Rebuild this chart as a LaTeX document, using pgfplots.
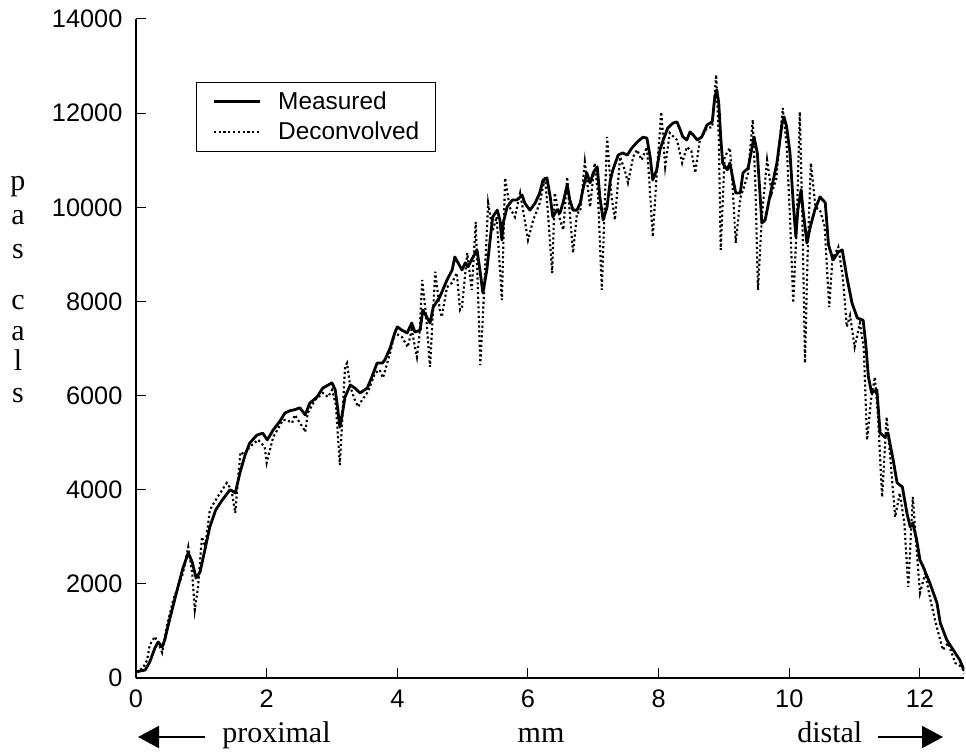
\documentclass[border=0pt]{standalone}
\usepackage{fontspec}
\setmainfont{Liberation Serif}
\newfontfamily\arial{Liberation Sans}
\usepackage{pgfplots}
\pgfplotsset{compat=1.18}
\usetikzlibrary{arrows.meta}

\begin{document}
\begin{tikzpicture}
\path[use as bounding box] (-102pt,-54.75pt) rectangle (622.5pt,508.5pt);
\begin{axis}[
  at={(0pt,0pt)}, anchor=south west,
  scale only axis, width=621.3pt, height=494.25pt,
  xmin=0, xmax=12.68, ymin=0, ymax=14000,
  axis x line=bottom, axis y line=left,
  axis line style={-, line width=1.1pt},
  tick align=inside, major tick length=7.5pt,
  every tick/.style={black, line width=0.75pt},
  xtick={0,2,...,12}, ytick={0,2000,...,14000},
  scaled ticks=false,
  tick label style={font=\arial\fontsize{19}{21}\selectfont},
  /pgf/number format/assume math mode=true,
  /pgf/number format/1000 sep={},
  xticklabel style={inner sep=0pt, anchor=north, yshift=-9pt},
  yticklabel style={inner sep=0pt, anchor=east, xshift=-10pt},
  legend style={at={(0.0724,0.9044)}, anchor=north west, draw=black,
    line width=0.6pt, fill=white, font=\arial\fontsize{18.3}{21}\selectfont,
    inner xsep=12pt, inner ysep=7pt, row sep=8pt,
    nodes={inner sep=0pt, anchor=west},
    /tikz/every odd column/.append style={column sep=12.75pt}},
  legend cell align=left,
  legend image code/.code={\draw[#1] (0pt,0pt) -- (34.5pt,0pt);},
]
% measured pressure profile
\addplot[black, line width=2.1pt, line join=round, mark=none] coordinates {
(0.00,130) (0.14,170) (0.21,340) (0.29,640) (0.34,765) (0.40,660) (0.44,810)
(0.52,1275) (0.63,1870) (0.72,2340) (0.80,2660) (0.86,2465) (0.92,2125)
(0.98,2250) (1.06,2760) (1.13,3210) (1.22,3570) (1.32,3780) (1.44,4000)
(1.52,3930) (1.59,4355) (1.67,4740) (1.74,4990) (1.85,5160) (1.94,5200)
(2.01,5060) (2.10,5270) (2.20,5450) (2.28,5630) (2.36,5680) (2.43,5700)
(2.51,5740) (2.59,5590) (2.66,5840) (2.77,5970) (2.86,6160) (3.00,6270)
(3.05,6120) (3.09,5695) (3.12,5330) (3.15,5545) (3.20,5970) (3.28,6225)
(3.35,6160) (3.43,6055) (3.54,6160) (3.61,6395) (3.69,6690) (3.77,6690)
(3.81,6760) (3.89,7010) (3.96,7330) (4.00,7460) (4.07,7390) (4.15,7330)
(4.22,7540) (4.27,7350) (4.35,7390) (4.39,7820) (4.45,7670) (4.50,7540)
(4.55,7880) (4.65,8095) (4.76,8455) (4.84,8670) (4.88,8945) (4.93,8820)
(4.99,8670) (5.04,8820) (5.08,8735) (5.16,8945) (5.22,9095) (5.27,8605)
(5.31,8180) (5.37,8670) (5.42,9305) (5.46,9795) (5.53,9940) (5.57,9730)
(5.60,9305) (5.62,9665) (5.68,10005) (5.76,10155) (5.83,10155) (5.91,10260)
(5.95,10090) (6.03,9940) (6.11,10090) (6.18,10305) (6.23,10580) (6.29,10625)
(6.34,10220) (6.38,9795) (6.44,9940) (6.49,9880) (6.54,10115) (6.60,10475)
(6.64,10155) (6.69,9940) (6.75,9940) (6.80,10090) (6.84,10370) (6.90,10730)
(6.95,10520) (7.00,10730) (7.06,10860) (7.10,10220) (7.15,9730) (7.21,10005)
(7.26,10580) (7.30,10795) (7.38,11110) (7.45,11155) (7.52,11110) (7.59,11260)
(7.67,11385) (7.76,11490) (7.82,11470) (7.87,11070) (7.91,10580) (7.97,10795)
(8.02,11220) (8.07,11430) (8.14,11685) (8.22,11790) (8.28,11815) (8.33,11645)
(8.37,11495) (8.43,11430) (8.48,11600) (8.53,11535) (8.59,11430) (8.66,11495)
(8.74,11750) (8.82,11815) (8.86,12345) (8.89,12495) (8.92,12215) (8.95,11495)
(8.98,10940) (9.05,10795) (9.09,10940) (9.14,10580) (9.18,10305) (9.25,10305)
(9.29,10730) (9.37,10835) (9.43,11280) (9.46,11495) (9.51,11155) (9.55,10305)
(9.58,9665) (9.63,9730) (9.70,10220) (9.81,10940) (9.89,11790) (9.92,11920)
(9.96,11705) (10.01,11155) (10.06,10090) (10.10,9370) (10.13,9940)
(10.18,10370) (10.21,9940) (10.27,9240) (10.32,9580) (10.39,9940)
(10.47,10220) (10.55,10100) (10.60,9200) (10.67,8880) (10.75,9050)
(10.81,9095) (10.88,8520) (10.96,7965) (11.04,7650) (11.13,7600) (11.17,7100)
(11.21,6400) (11.26,6060) (11.34,6120) (11.39,5205) (11.46,5120) (11.51,5205)
(11.59,4630) (11.65,4145) (11.73,4060) (11.80,3505) (11.85,3210) (11.89,3295)
(11.95,2930) (12.00,2505) (12.05,2360) (12.15,2020) (12.26,1595) (12.31,1170)
(12.41,810) (12.51,595) (12.61,380) (12.68,150)
};
\addlegendentry{Measured}
% deconvolved pressure profile
\addplot[black, line width=1.6pt, dash pattern=on 1.6pt off 2pt, mark=none] coordinates {
(0.00,130) (0.10,200) (0.17,380) (0.21,700) (0.29,880) (0.35,700) (0.40,540)
(0.47,1085) (0.57,1660) (0.72,2230) (0.80,2785) (0.86,2230) (0.90,1445)
(0.95,1935) (1.01,3000) (1.06,2785) (1.13,3570) (1.25,3850) (1.39,4145)
(1.46,4000) (1.52,3505) (1.56,4200) (1.60,4800) (1.66,4750) (1.74,4910)
(1.87,5060) (1.97,4910) (2.00,4570) (2.10,5120) (2.25,5480) (2.31,5480)
(2.39,5420) (2.43,5590) (2.56,5310) (2.59,5225) (2.63,5630) (2.74,5905)
(2.86,6055) (2.94,5970) (3.00,6120) (3.06,5800) (3.12,4525) (3.20,6610)
(3.23,6690) (3.28,6185) (3.35,5905) (3.40,5760) (3.46,5905) (3.55,6080)
(3.66,6480) (3.73,6545) (3.78,6375) (3.89,6905) (3.96,7330) (4.07,7245)
(4.16,7030) (4.22,7400) (4.30,6820) (4.34,7300) (4.38,8455) (4.44,7700)
(4.50,6610) (4.58,8630) (4.65,7820) (4.68,7670) (4.76,8300) (4.84,8400)
(4.91,8605) (4.96,7820) (4.99,7880) (5.07,9030) (5.14,8245) (5.20,9690)
(5.27,6650) (5.30,7400) (5.39,10090) (5.46,9500) (5.52,9800) (5.60,8030)
(5.65,10625) (5.72,10000) (5.80,9795) (5.88,10305) (5.95,9730) (6.00,9305)
(6.08,9730) (6.18,10090) (6.26,10645) (6.31,9795) (6.37,8605) (6.41,10305)
(6.49,9730) (6.54,9520) (6.60,10645) (6.64,9880) (6.69,9030) (6.75,9880)
(6.80,9900) (6.87,10965) (6.95,10005) (7.02,10940) (7.07,10300) (7.13,8245)
(7.21,11495) (7.28,10220) (7.33,9730) (7.41,11070) (7.48,10795) (7.53,10520)
(7.61,11070) (7.67,11220) (7.74,11005) (7.82,11280) (7.86,10500) (7.91,9370)
(7.97,10700) (8.04,12025) (8.10,10860) (8.17,11580) (8.28,11430) (8.36,10940)
(8.43,11280) (8.50,11200) (8.56,10730) (8.63,11430) (8.74,11685) (8.82,11700)
(8.88,12815) (8.92,11500) (8.95,9095) (9.01,11070) (9.09,11260) (9.13,10500)
(9.18,9240) (9.25,10200) (9.30,10400) (9.37,10730) (9.44,11860) (9.48,10500)
(9.52,8245) (9.58,9800) (9.66,11005) (9.73,10300) (9.80,10600) (9.90,12110)
(9.96,11300) (10.01,9800) (10.06,7970) (10.11,9500) (10.16,12025) (10.20,9800)
(10.24,6690) (10.28,9000) (10.33,10940) (10.40,10000) (10.47,9940) (10.54,9600)
(10.61,7880) (10.66,8900) (10.75,9160) (10.82,8500) (10.88,7460) (10.93,7700)
(11.00,7030) (11.08,7540) (11.14,7000) (11.19,5055) (11.25,5900) (11.31,6395)
(11.36,5500) (11.42,3845) (11.49,5545) (11.55,4600) (11.62,3420) (11.69,3930)
(11.76,3300) (11.82,1935) (11.89,3845) (11.95,2700) (12.00,1805) (12.08,2230)
(12.15,1720) (12.23,1230) (12.35,595) (12.43,745) (12.54,320) (12.64,235)
(12.68,100)
};
\addlegendentry{Deconvolved}
\end{axis}
% vertical axis title, one letter per line
\foreach \ch/\yy in {p/365.25, a/340.5, s/315, c/276.75, a/253.5, l/231, s/207}
  \node[anchor=base, inner sep=0pt, font=\fontsize{22.5}{24}\selectfont] at (-88.5pt,\yy pt) {\ch};
% horizontal axis title with direction arrows
\draw[line width=1.5pt, -{Triangle[length=15.75pt,width=16.5pt]}] (51.75pt,-44.25pt) -- (1.5pt,-44.25pt);
\node[anchor=base west, inner sep=0pt, font=\fontsize{22.5}{24}\selectfont] at (64.5pt,-48pt) {proximal};
\node[anchor=base, inner sep=0pt, font=\fontsize{22.5}{24}\selectfont] at (303.75pt,-48pt) {mm};
\node[anchor=base west, inner sep=0pt, font=\fontsize{22.5}{24}\selectfont] at (495.75pt,-48pt) {distal};
\draw[line width=1.5pt, -{Triangle[length=15.75pt,width=16.5pt]}] (556.5pt,-44.25pt) -- (605.25pt,-44.25pt);
\end{tikzpicture}
\end{document}
